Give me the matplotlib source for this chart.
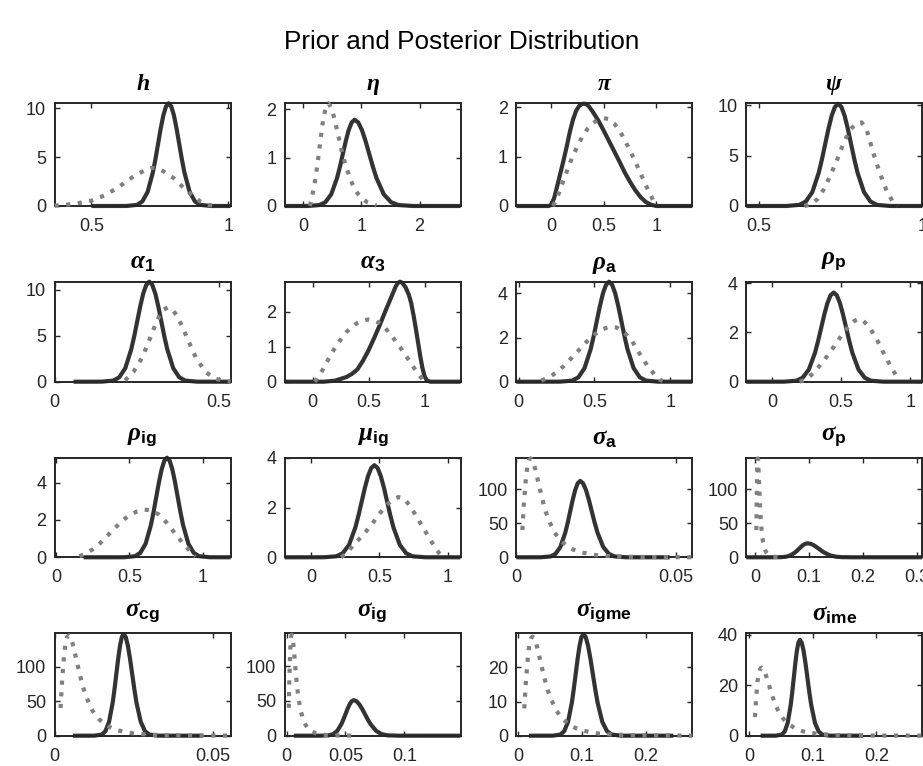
import matplotlib
matplotlib.use("Agg")
import matplotlib.pyplot as plt
from matplotlib.ticker import FuncFormatter

plt.rcParams["font.family"] = ["Liberation Sans", "DejaVu Sans"]
plt.rcParams["mathtext.fontset"] = "custom"
plt.rcParams["mathtext.rm"] = "Liberation Sans"
plt.rcParams["mathtext.bf"] = "Liberation Sans:bold"
plt.rcParams["mathtext.it"] = "Liberation Serif:italic"
plt.rcParams["mathtext.bfit"] = "Liberation Serif:italic:bold"

# ---------------- densities: posterior (solid) and prior (dotted) ----------------
h_post_x = [0.5, 0.628, 0.6665, 0.6857, 0.705, 0.7242, 0.7339, 0.7435, 0.7531, 0.7627, 0.7724, 0.782,
            0.7916, 0.8013, 0.8109, 0.8205, 0.8301, 0.8398, 0.859, 0.8783, 0.8975, 0.936, 1.008]
h_post_y = [0, 0.003, 0.117, 0.461, 1.42, 3.41, 4.81, 6.37, 7.93, 9.27, 10.18, 10.5,
            10.18, 9.27, 7.93, 6.37, 4.81, 3.41, 1.42, 0.461, 0.117, 0.003, 0]
h_prior_x = [0.365, 0.40, 0.45, 0.50, 0.55, 0.60, 0.65, 0.70, 0.722, 0.75, 0.80, 0.85, 0.90, 0.93, 0.95]
h_prior_y = [0.04, 0.1, 0.28, 0.55, 1.1, 1.95, 2.95, 3.75, 3.9, 3.78, 2.86, 1.49, 0.41, 0.1, 0.03]

eta_post_x = [-0.314, 0.086, 0.286, 0.386, 0.486, 0.586, 0.636, 0.686, 0.736, 0.786, 0.836, 0.886,
              0.9485, 1.011, 1.0735, 1.136, 1.1985, 1.261, 1.386, 1.511, 1.636, 1.886, 2.70]
eta_post_y = [0, 0.0005, 0.0198, 0.078, 0.241, 0.578, 0.815, 1.08, 1.343, 1.571, 1.725, 1.78,
              1.725, 1.571, 1.343, 1.08, 0.815, 0.578, 0.241, 0.078, 0.0198, 0.0005, 0]
eta_prior_x = [0.12, 0.15, 0.20, 0.25, 0.30, 0.35, 0.40, 0.44, 0.50, 0.55, 0.60, 0.65, 0.70, 0.75,
               0.80, 0.85, 0.90, 0.95, 1.00, 1.10, 1.20, 1.26]
eta_prior_y = [0.0, 0.15, 0.45, 0.85, 1.35, 1.8, 2.07, 2.12, 2.0, 1.75, 1.5, 1.22, 0.98, 0.78,
               0.6, 0.45, 0.33, 0.24, 0.17, 0.08, 0.03, 0.01]

pi_post_x = [-0.327, -0.02, 0.0, 0.03, 0.06, 0.09, 0.12, 0.15, 0.18, 0.21, 0.24, 0.27, 0.30, 0.33,
             0.36, 0.40, 0.45, 0.50, 0.55, 0.60, 0.65, 0.70, 0.75, 0.80, 0.85, 0.90, 0.95, 1.0, 1.34]
pi_post_y = [0, 0, 0.02, 0.15, 0.4, 0.66, 0.92, 1.2, 1.5, 1.75, 1.93, 2.03, 2.07, 2.07,
             2.02, 1.9, 1.73, 1.53, 1.32, 1.11, 0.9, 0.68, 0.49, 0.32, 0.18, 0.08, 0.025, 0.0, 0]

# prior shared by pi and alpha_3
beta_prior_x = [0.02, 0.04, 0.08, 0.12, 0.16, 0.2, 0.25, 0.3, 0.35, 0.4, 0.45, 0.5, 0.55, 0.6,
                0.65, 0.7, 0.75, 0.8, 0.85, 0.9, 0.95, 0.98, 1.0]
beta_prior_y = [0.0, 0.08, 0.28, 0.52, 0.75, 0.97, 1.2, 1.41, 1.57, 1.68, 1.75, 1.78, 1.76, 1.67,
                1.53, 1.34, 1.12, 0.9, 0.66, 0.42, 0.2, 0.07, 0.0]

psi_post_x = [0.4625, 0.585, 0.6245, 0.6442, 0.664, 0.6837, 0.6936, 0.7035, 0.7134, 0.7232, 0.7331, 0.743,
              0.7529, 0.7628, 0.7726, 0.7825, 0.7924, 0.8023, 0.822, 0.8418, 0.8615, 0.901, 1.0]
psi_post_y = [0, 0.003, 0.113, 0.446, 1.37, 3.3, 4.65, 6.16, 7.66, 8.96, 9.84, 10.15,
              9.84, 8.96, 7.66, 6.16, 4.65, 3.3, 1.37, 0.446, 0.113, 0.003, 0]
psi_prior_x = [0.64, 0.66, 0.68, 0.70, 0.72, 0.74, 0.76, 0.78, 0.80, 0.815, 0.83, 0.85, 0.87, 0.89, 0.91, 0.925]
psi_prior_y = [0.0, 0.15, 0.7, 1.7, 3.1, 4.6, 6.3, 7.6, 8.25, 8.3, 7.6, 5.3, 3.3, 1.6, 0.4, 0.03]

a1_post_x = [0.058, 0.1426, 0.1791, 0.1973, 0.2156, 0.2338, 0.243, 0.2521, 0.2612, 0.2703, 0.2795, 0.2886,
             0.2977, 0.3069, 0.316, 0.3251, 0.3342, 0.3434, 0.3616, 0.3799, 0.3981, 0.4346, 0.536]
a1_post_y = [0, 0.003, 0.121, 0.479, 1.475, 3.54, 4.99, 6.61, 8.23, 9.62, 10.56, 10.9,
             10.56, 9.62, 8.23, 6.61, 4.99, 3.54, 1.475, 0.479, 0.121, 0.003, 0]
a1_prior_x = [0.215, 0.241, 0.267, 0.293, 0.306, 0.319, 0.332, 0.345, 0.3593, 0.3735, 0.3878, 0.402,
              0.4305, 0.459, 0.4875, 0.516, 0.536]
a1_prior_y = [0.15, 1.096, 2.63, 4.91, 6.11, 7.15, 7.85, 8.1, 7.85, 7.15, 6.11, 4.91,
              2.63, 1.096, 0.356, 0.09, 0.029]

a3_post_x = [-0.25, 0.1, 0.2, 0.3, 0.35, 0.4, 0.45, 0.5, 0.55, 0.6, 0.65, 0.7, 0.74, 0.76, 0.78, 0.8,
             0.83, 0.86, 0.88, 0.9, 0.92, 0.94, 0.96, 0.98, 1.0, 1.02, 1.05, 1.32]
a3_post_y = [0, 0.0, 0.03, 0.13, 0.22, 0.35, 0.6, 0.9, 1.25, 1.62, 2.02, 2.4, 2.71, 2.82, 2.86, 2.83,
             2.7, 2.48, 2.25, 1.92, 1.55, 1.15, 0.75, 0.4, 0.15, 0.04, 0.0, 0]

rhoa_post_x = [-0.015, 0.273, 0.354, 0.3945, 0.435, 0.4755, 0.4958, 0.516, 0.5363, 0.5565, 0.5768, 0.597,
               0.6173, 0.6375, 0.6578, 0.678, 0.6983, 0.7185, 0.759, 0.7995, 0.84, 0.921, 1.146]
rhoa_post_y = [0, 0.0014, 0.05, 0.199, 0.613, 1.47, 2.07, 2.75, 3.42, 4.0, 4.39, 4.53,
               4.39, 4.0, 3.42, 2.75, 2.07, 1.47, 0.613, 0.199, 0.05, 0.0014, 0]
rhoa_prior_x = [0.15, 0.2, 0.25, 0.3, 0.35, 0.4, 0.45, 0.5, 0.55, 0.6, 0.65, 0.7, 0.75, 0.8, 0.85, 0.9, 0.93, 0.95]
rhoa_prior_y = [0.05, 0.2, 0.42, 0.72, 1.08, 1.45, 1.82, 2.13, 2.37, 2.49, 2.45, 2.22, 1.82, 1.25, 0.72, 0.3, 0.1, 0.03]

rhop_post_x = [-0.185, 0.087, 0.177, 0.222, 0.267, 0.312, 0.3345, 0.357, 0.3795, 0.402, 0.4245, 0.447,
               0.4695, 0.492, 0.5145, 0.537, 0.5595, 0.582, 0.627, 0.672, 0.717, 0.807, 1.088]
rhop_post_y = [0, 0.001, 0.04, 0.159, 0.49, 1.175, 1.657, 2.196, 2.732, 3.195, 3.508, 3.62,
               3.508, 3.195, 2.732, 2.196, 1.657, 1.175, 0.49, 0.159, 0.04, 0.001, 0]
rhop_prior_x = [0.2, 0.25, 0.3, 0.35, 0.4, 0.45, 0.5, 0.55, 0.6, 0.63, 0.66, 0.7, 0.75, 0.8, 0.85, 0.9, 0.92]
rhop_prior_y = [0.0, 0.1, 0.35, 0.68, 1.04, 1.43, 1.85, 2.22, 2.48, 2.55, 2.48, 2.25, 1.82, 1.25, 0.72, 0.24, 0.05]

rhoig_post_x = [0.189, 0.465, 0.538, 0.5745, 0.611, 0.6475, 0.6658, 0.684, 0.7023, 0.7205, 0.7388, 0.757,
                0.7753, 0.7935, 0.8118, 0.83, 0.8483, 0.8665, 0.903, 0.9395, 0.976, 1.049, 1.19]
rhoig_post_y = [0, 0.0016, 0.0593, 0.2344, 0.7225, 1.734, 2.445, 3.239, 4.031, 4.713, 5.176, 5.34,
                5.176, 4.713, 4.031, 3.239, 2.445, 1.734, 0.7225, 0.2344, 0.0593, 0.0016, 0]
rhoig_prior_x = [0.16, 0.2, 0.25, 0.3, 0.35, 0.4, 0.45, 0.5, 0.55, 0.6, 0.65, 0.7, 0.75, 0.8, 0.85, 0.9, 0.93, 0.95]
rhoig_prior_y = [0.05, 0.2, 0.42, 0.75, 1.15, 1.55, 1.95, 2.25, 2.45, 2.56, 2.52, 2.3, 1.9, 1.4, 0.9, 0.45, 0.15, 0.03]

muig_post_x = [-0.195, 0.092, 0.185, 0.2315, 0.278, 0.3245, 0.3478, 0.371, 0.3943, 0.4175, 0.4408, 0.464,
               0.4873, 0.5105, 0.5338, 0.557, 0.5803, 0.6035, 0.65, 0.6965, 0.743, 0.836, 1.095]
muig_post_y = [0, 0.001, 0.041, 0.162, 0.5, 1.201, 1.694, 2.244, 2.793, 3.265, 3.586, 3.7,
               3.586, 3.265, 2.793, 2.244, 1.694, 1.201, 0.5, 0.162, 0.041, 0.001, 0]
muig_prior_x = [0.22, 0.25, 0.3, 0.35, 0.4, 0.45, 0.5, 0.55, 0.6, 0.64, 0.68, 0.72, 0.76, 0.8, 0.85, 0.9, 0.94, 0.96]
muig_prior_y = [0.0, 0.12, 0.42, 0.72, 1.02, 1.36, 1.74, 2.08, 2.33, 2.42, 2.36, 2.1, 1.75, 1.38, 0.92, 0.47, 0.15, 0.03]

# prior shared by sigma_a, sigma_p, sigma_cg and sigma_ig
sig_prior_x = [0.0019, 0.0024, 0.003, 0.0035, 0.004, 0.0045, 0.005, 0.0055, 0.006, 0.007, 0.008, 0.009,
               0.010, 0.012, 0.014, 0.016, 0.018, 0.020, 0.025, 0.030, 0.035, 0.040, 0.045, 0.050, 0.055]
sig_prior_y = [40, 80, 115, 135, 143, 145, 143, 137, 128, 108, 88, 70,
               56, 36, 24, 16, 11, 7.5, 3.2, 1.5, 0.8, 0.45, 0.28, 0.18, 0.12]

siga_post_x = [0.0, 0.0076, 0.0107, 0.01225, 0.0138, 0.01535, 0.016125, 0.0169, 0.017675, 0.01845, 0.019225, 0.02,
               0.0209, 0.0218, 0.0227, 0.0236, 0.0245, 0.0254, 0.0272, 0.029, 0.0308, 0.0344, 0.048]
siga_post_y = [0, 0.03, 1.24, 4.92, 15.2, 36.4, 51.3, 67.9, 84.5, 98.8, 108.5, 112,
               108.5, 98.8, 84.5, 67.9, 51.3, 36.4, 15.2, 4.92, 1.24, 0.03, 0]

sigp_post_x = [-0.0168, 0.033, 0.049, 0.057, 0.065, 0.073, 0.077, 0.081, 0.085, 0.089, 0.093, 0.097,
               0.10225, 0.1075, 0.11275, 0.118, 0.12325, 0.1285, 0.139, 0.1495, 0.16, 0.181, 0.31]
sigp_post_y = [0, 0.006, 0.23, 0.9, 2.77, 6.66, 9.38, 12.43, 15.47, 18.09, 19.87, 20.5,
               19.87, 18.09, 15.47, 12.43, 9.38, 6.66, 2.77, 0.9, 0.23, 0.006, 0]

sigcg_post_x = [0.0058, 0.0126, 0.0149, 0.01605, 0.0172, 0.01835, 0.018925, 0.0195, 0.020075, 0.02065, 0.021225, 0.0218,
                0.022475, 0.02315, 0.023825, 0.0245, 0.025175, 0.02585, 0.0272, 0.02855, 0.0299, 0.0326, 0.0468]
sigcg_post_y = [0, 0.04, 1.63, 6.45, 19.9, 47.7, 67.3, 89.2, 111.0, 129.7, 142.5, 147,
                142.5, 129.7, 111.0, 89.2, 67.3, 47.7, 19.9, 6.45, 1.63, 0.04, 0]

sigig_post_x = [0.0062, 0.029, 0.036, 0.0395, 0.043, 0.0465, 0.04825, 0.05, 0.05175, 0.0535, 0.05525, 0.057,
                0.059375, 0.06175, 0.064125, 0.0665, 0.068875, 0.07125, 0.076, 0.08075, 0.0855, 0.095, 0.1475]
sigig_post_y = [0, 0.015, 0.566, 2.24, 6.9, 16.56, 23.35, 30.93, 38.49, 45.0, 49.43, 51,
                49.43, 45.0, 38.49, 30.93, 23.35, 16.56, 6.9, 2.24, 0.566, 0.015, 0]

sigigme_post_x = [0.0168, 0.0538, 0.0658, 0.0718, 0.0778, 0.0838, 0.0868, 0.0898, 0.0928, 0.0958, 0.0988, 0.1018,
                  0.1055, 0.1092, 0.1129, 0.1166, 0.1203, 0.124, 0.1314, 0.1388, 0.1462, 0.161, 0.2425]
sigigme_post_y = [0, 0.009, 0.331, 1.31, 4.03, 9.68, 13.64, 18.07, 22.49, 26.3, 28.88, 29.8,
                  28.88, 26.3, 22.49, 18.07, 13.64, 9.68, 4.03, 1.31, 0.331, 0.009, 0]
sigigme_prior_x = [0.0095, 0.012, 0.015, 0.0175, 0.02, 0.0225, 0.025, 0.0275, 0.03, 0.035, 0.04, 0.045, 0.05,
                   0.06, 0.07, 0.08, 0.09, 0.1, 0.125, 0.15, 0.175, 0.2, 0.225, 0.25, 0.272]
sigigme_prior_y = [8, 16, 23, 27, 28.6, 29, 28.6, 27.4, 25.6, 21.6, 17.6, 14, 11.2,
                   7.2, 4.8, 3.2, 2.2, 1.5, 0.64, 0.3, 0.16, 0.09, 0.056, 0.036, 0.024]

sigime_post_x = [0.0184, 0.042, 0.0515, 0.05625, 0.061, 0.06575, 0.068125, 0.0705, 0.072875, 0.07525, 0.077625, 0.08,
                 0.08295, 0.0859, 0.08885, 0.0918, 0.09475, 0.0977, 0.1036, 0.1095, 0.1154, 0.1272, 0.179]
sigime_post_y = [0, 0.011, 0.42, 1.67, 5.14, 12.34, 17.4, 23.05, 28.68, 33.54, 36.83, 38,
                 36.83, 33.54, 28.68, 23.05, 17.4, 12.34, 5.14, 1.67, 0.42, 0.011, 0]
sigime_prior_x = [0.0095, 0.0115, 0.0135, 0.0158, 0.018, 0.0203, 0.0225, 0.0248, 0.027, 0.0315, 0.036, 0.0405,
                  0.045, 0.054, 0.063, 0.072, 0.081, 0.09, 0.1125, 0.135, 0.1575, 0.18, 0.2025, 0.225, 0.25, 0.272]
sigime_prior_y = [7.4, 14.9, 21.4, 25.1, 26.6, 27.0, 26.6, 25.5, 23.8, 20.1, 16.4, 13.0,
                  10.4, 6.7, 4.5, 3.0, 2.0, 1.4, 0.6, 0.28, 0.15, 0.08, 0.05, 0.04, 0.03, 0.022]

# ---------------- panel titles (symbol + subscript) and axis settings ----------------
title_sym = [r"\mathbfit{h}", r"\mathbfit{\eta}", r"\mathbfit{\pi}", r"\mathbfit{\psi}",
             r"\mathbfit{\alpha}", r"\mathbfit{\alpha}", r"\mathbfit{\rho}", r"\mathbfit{\rho}",
             r"\mathbfit{\rho}", r"\mathbfit{\mu}", r"\mathbfit{\sigma}", r"\mathbfit{\sigma}",
             r"\mathbfit{\sigma}", r"\mathbfit{\sigma}", r"\mathbfit{\sigma}", r"\mathbfit{\sigma}"]
title_sub = ["", "", "", "", "1", "3", "a", "p", "ig", "ig", "a", "p", "cg", "ig", "igme", "ime"]

posteriors = [(h_post_x, h_post_y), (eta_post_x, eta_post_y), (pi_post_x, pi_post_y), (psi_post_x, psi_post_y),
              (a1_post_x, a1_post_y), (a3_post_x, a3_post_y), (rhoa_post_x, rhoa_post_y), (rhop_post_x, rhop_post_y),
              (rhoig_post_x, rhoig_post_y), (muig_post_x, muig_post_y), (siga_post_x, siga_post_y),
              (sigp_post_x, sigp_post_y), (sigcg_post_x, sigcg_post_y), (sigig_post_x, sigig_post_y),
              (sigigme_post_x, sigigme_post_y), (sigime_post_x, sigime_post_y)]

priors = [(h_prior_x, h_prior_y), (eta_prior_x, eta_prior_y), (beta_prior_x, beta_prior_y), (psi_prior_x, psi_prior_y),
          (a1_prior_x, a1_prior_y), (beta_prior_x, beta_prior_y), (rhoa_prior_x, rhoa_prior_y), (rhop_prior_x, rhop_prior_y),
          (rhoig_prior_x, rhoig_prior_y), (muig_prior_x, muig_prior_y), (sig_prior_x, sig_prior_y),
          (sig_prior_x, sig_prior_y), (sig_prior_x, sig_prior_y), (sig_prior_x, sig_prior_y),
          (sigigme_prior_x, sigigme_prior_y), (sigime_prior_x, sigime_prior_y)]

x_limits = [(0.365, 1.008), (-0.314, 2.70), (-0.327, 1.34), (0.4625, 1.0),
            (0.0, 0.536), (-0.25, 1.32), (-0.015, 1.146), (-0.185, 1.088),
            (-0.01, 1.19), (-0.195, 1.095), (0.0, 0.0551), (-0.0168, 0.31),
            (0.0, 0.0555), (-0.0017, 0.1475), (-0.003, 0.272), (-0.004, 0.272)]
y_tops = [10.5, 2.12, 2.08, 10.2, 10.9, 2.86, 4.53, 4.06, 5.34, 3.93, 146, 146, 148, 147, 30, 40.6]

x_ticks = [[0.5, 1], [0, 1, 2], [0, 0.5, 1], [0.5, 1], [0, 0.5], [0, 0.5, 1], [0, 0.5, 1], [0, 0.5, 1],
           [0, 0.5, 1], [0, 0.5, 1], [0, 0.05], [0, 0.1, 0.2, 0.3], [0, 0.05], [0, 0.05, 0.1],
           [0, 0.1, 0.2], [0, 0.1, 0.2]]
y_ticks = [[0, 5, 10], [0, 1, 2], [0, 1, 2], [0, 5, 10], [0, 5, 10], [0, 1, 2], [0, 2, 4], [0, 2, 4],
           [0, 2, 4], [0, 2, 4], [0, 50, 100], [0, 50, 100], [0, 50, 100], [0, 50, 100], [0, 10, 20], [0, 20, 40]]

# ---------------- figure ----------------
W, H = 923, 766
DPI = 100
fig = plt.figure(figsize=(W / DPI, H / DPI), dpi=DPI)
fig.patch.set_facecolor("white")

col_left = [54.5, 284.5, 516.3, 746.3]
ax_width = 176.0
row_top = [103.3, 281.7, 457.7, 633.3]
row_bottom = [206.0, 381.7, 557.3, 735.7]

POST_COLOR = "#333333"
PRIOR_COLOR = "#808080"
FRAME_COLOR = "#262626"
fmt = FuncFormatter(lambda v, p: f"{v:g}")
px2pt = 72.0 / DPI

for i in range(16):
    r, c = divmod(i, 4)
    ax = fig.add_axes([col_left[c] / W, 1 - row_bottom[r] / H, ax_width / W,
                       (row_bottom[r] - row_top[r]) / H])
    px, py = posteriors[i]
    qx, qy = priors[i]
    ax.plot(px, py, color=POST_COLOR, lw=3.0, solid_capstyle="butt", solid_joinstyle="round",
            clip_on=False, zorder=2)
    ax.plot(qx, qy, color=PRIOR_COLOR, lw=3.0, linestyle=(0, (1, 1.8)), dash_capstyle="butt",
            clip_on=False, zorder=3)
    ax.set_xlim(*x_limits[i])
    ax.set_ylim(0, y_tops[i])
    ax.set_xticks(x_ticks[i])
    ax.set_yticks(y_ticks[i])
    ax.xaxis.set_major_formatter(fmt)
    ax.yaxis.set_major_formatter(fmt)
    ax.tick_params(direction="in", length=3.5, width=1.0, top=True, right=True,
                   labelsize=13, colors=FRAME_COLOR)
    ax.tick_params(axis="x", pad=8.5)
    ax.tick_params(axis="y", pad=6)
    for s in ax.spines.values():
        s.set_linewidth(1.4)
        s.set_color(FRAME_COLOR)

    # panel title: bold italic symbol with a bold upright subscript
    sub = title_sub[i]
    if sub:
        label = "$" + title_sym[i] + r"_\mathbf{" + sub + "}$"
        base_px = 13 + (4 if any(ch in "gpqyj" for ch in sub) else 0)
        size = 18
    else:
        label = "$" + title_sym[i] + "$"
        base_px = 13
        size = 17
    ax.annotate(label, xy=(0.5, 1.0), xycoords="axes fraction", xytext=(0, base_px * px2pt),
                textcoords="offset points", ha="center", va="baseline", fontsize=size, color="black")

fig.text(0.5, 1 - 42 / H, "Prior and Posterior Distribution", ha="center", va="center",
         fontsize=18.8, color="black")

fig.savefig("out.png", dpi=DPI, facecolor="white")
